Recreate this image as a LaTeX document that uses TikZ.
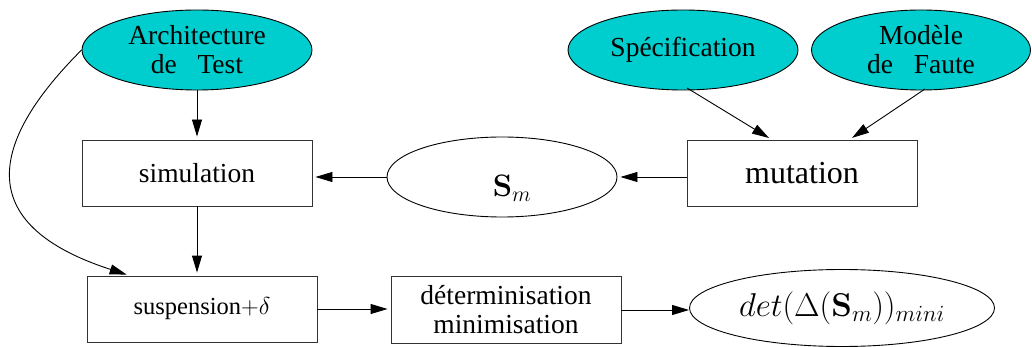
\documentclass[tikz,border=0pt]{standalone}
\usepackage{fix-cm}
\usepackage[no-math]{fontspec}
\setmainfont{Liberation Serif}
\usetikzlibrary{arrows.meta,shapes.geometric,calc}
\definecolor{tealfill}{RGB}{0,205,205}
\tikzset{
  box/.style={draw=black!80, line width=0.9pt, rectangle, inner sep=0pt, minimum width=230pt, minimum height=66pt, align=center, font=\fontsize{27.5}{29}\selectfont},
  blob/.style={draw=black, line width=0.9pt, ellipse, inner sep=0pt, minimum width=230pt, minimum height=80pt, align=center, font=\fontsize{27.5}{29}\selectfont},
  src/.style={blob, fill=tealfill},
  link/.style={draw, line width=0.9pt, -{Triangle[length=17pt,width=10pt]}, shorten >=3pt}
}
\begin{document}
\begin{tikzpicture}[x=1pt,y=-1pt]
\useasboundingbox (0,0) rectangle (1032,347);
\node[src] (arch) at (197,50) {Architecture\\de~~ Test};
\node[src] (spec) at (683,50) {Spécification};
\node[src, minimum width=219pt] (mod) at (921,50) {Modèle\\de~~ Faute};
\node[box] (sim) at (197,173) {simulation};
\node[blob] (sm) at (502,177) {\hspace*{20pt}\raisebox{-20pt}[0pt][0pt]{\fontsize{31}{32}\selectfont$\mathbf{S}_m$}};
\node[box, font=\fontsize{32}{34}\selectfont] (mut) at (802,173) {mutation};
\node[box, font=\fontsize{24.5}{26}\selectfont] (susp) at (202,309) {suspension$+\delta$};
\node[box, minimum height=67pt] (detm) at (506,310) {déterminisation\\minimisation};
\node[blob, minimum width=305pt, minimum height=77pt] (res) at (842,308) {\fontsize{33}{35}\selectfont$det(\Delta(\mathbf{S}_m))_{mini}$};
\coordinate (suspin) at ($(susp.north west)+(43,0)$);
\coordinate (mutinA) at ($(mut.north west)+(85,0)$);
\coordinate (mutinB) at ($(mut.north west)+(163,0)$);
\coordinate (specout) at (687,88);
\coordinate (modout) at (925,89);
\draw[link] (arch.south) -- (sim.north);
\draw[link] (sim.south) -- (susp.north -| sim.south);
\draw[link] (arch.west) .. controls +(-80,80) and +(-170,-55) .. (suspin);
\draw[link] (sm.west) -- (sim.east |- sm.west);
\draw[link] (mut.west |- sm.east) -- (sm.east);
\draw[link] (specout) -- (mutinA);
\draw[link] (modout) -- (mutinB);
\draw[link] (susp.east) -- (detm.west |- susp.east);
\draw[link, shorten >=0pt] (detm.east) -- (res.west |- detm.east);
\end{tikzpicture}
\end{document}
